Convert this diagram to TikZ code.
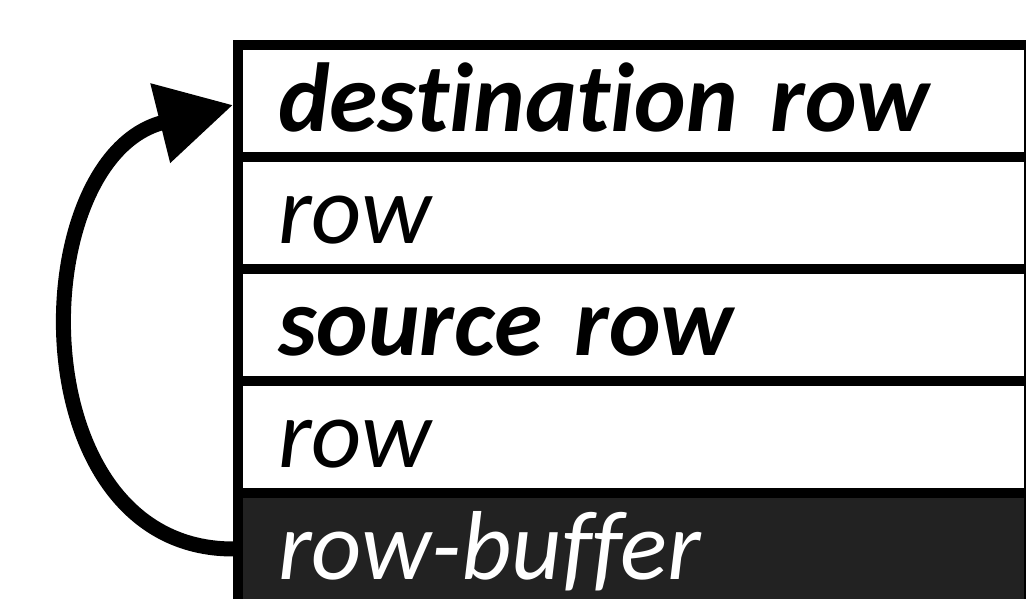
\documentclass[tikz,border=0pt]{standalone}
\usepackage{fontspec}
\setmainfont{Carlito}[Ligatures=NoCommon]
\usetikzlibrary{arrows.meta,positioning}
\definecolor{buffergray}{HTML}{222222}

\begin{document}
\begin{tikzpicture}[x=1pt,y=1pt,node distance=-10pt,
			every node/.style={font=\fontsize{98}{110}\selectfont\itshape},
			dramrow/.style={rectangle,draw,line width=10pt,minimum width=791pt,minimum height=112pt,
				inner xsep=40pt,text width=711pt,align=left,text height=70pt,text depth=9pt},
			keyrow/.style={dramrow,font=\fontsize{98}{110}\selectfont\bfseries\itshape},
			bufferrow/.style={dramrow,fill=buffergray,text=white},
			copyarrow/.style={line width=15pt,-{Triangle[length=75pt,width=78pt]}}]

			\useasboundingbox (0,0) rectangle (1026,599);
			\clip (0,0) rectangle (1026,599);

			\node [keyrow] (dest) at (633.5,498) {destination row};
			\node [dramrow,below=of dest] (row1) {row};
			\node [keyrow,below=of row1] (source) {source row};
			\node [dramrow,below=of source] (row2) {row};
			\node [bufferrow,below=of row2] (buffer) {row-buffer};

			\draw [copyarrow] (buffer.west) to[out=180,in=194,looseness=1.25] ([yshift=-4pt]dest.west);
	\end{tikzpicture}
\end{document}
